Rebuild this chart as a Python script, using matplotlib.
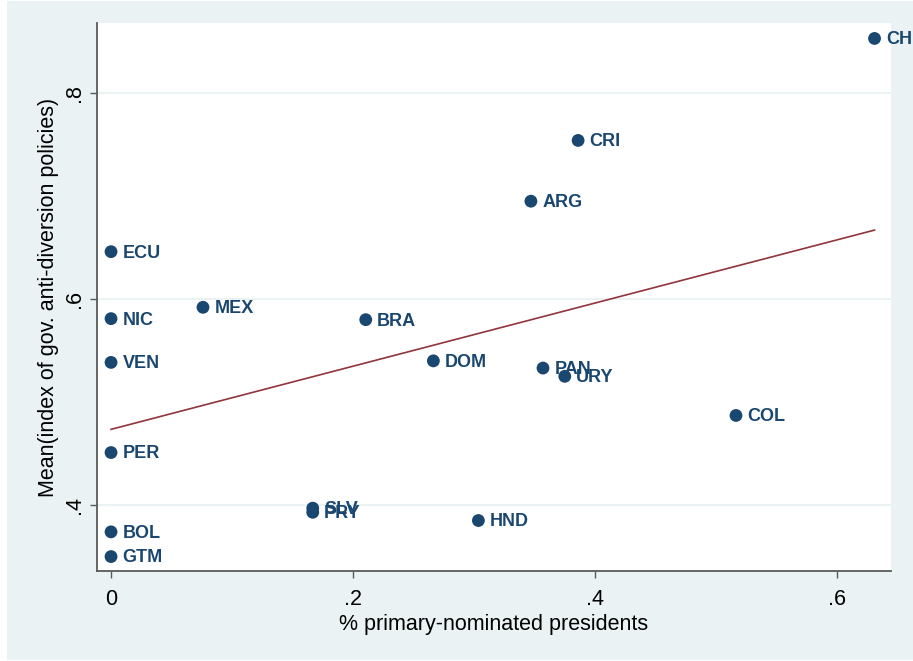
import numpy as np
import matplotlib
matplotlib.use("Agg")
import matplotlib.pyplot as plt
from matplotlib.patches import Rectangle

plt.rcParams['font.family'] = ['Liberation Sans', 'DejaVu Sans']

# Country codes and their values
countries = ["CHL", "CRI", "ARG", "ECU", "NIC", "MEX", "BRA", "VEN", "DOM",
             "PAN", "URY", "COL", "PER", "SLV", "PRY", "HND", "BOL", "GTM"]
primary_share = [0.631, 0.386, 0.347, 0.0, 0.0, 0.076, 0.2105, 0.0, 0.2664,
                 0.357, 0.375, 0.5165, 0.0, 0.1667, 0.1667, 0.3036, 0.0, 0.0]
anti_diversion = [0.853, 0.754, 0.695, 0.646, 0.581, 0.592, 0.580, 0.5385, 0.540,
                  0.533, 0.525, 0.487, 0.451, 0.397, 0.393, 0.385, 0.374, 0.350]

# Fitted-values line (intercept, slope)
fit_intercept = 0.4735
fit_slope = 0.3066

x_ticks = [0, 0.2, 0.4, 0.6]
x_tick_labels = ["0", ".2", ".4", ".6"]
y_ticks = [0.4, 0.6, 0.8]
y_tick_labels = [".4", ".6", ".8"]

BG = "#EAF2F3"
NAVY = "#1A476F"
MAROON = "#90353B"

fig = plt.figure(figsize=(9.13, 6.61), dpi=100)
fig.patch.set_facecolor("white")
fig.patches.append(Rectangle((7 / 913, 1 / 661), 906 / 913, 659 / 661,
                             transform=fig.transFigure, facecolor=BG,
                             edgecolor="none", zorder=-10))

ax = fig.add_axes([97 / 913, 1 - 571 / 661, 794 / 913, 548 / 661])
ax.set_facecolor("white")

x = np.array(primary_share)
y = np.array(anti_diversion)

# Fitted line over the observed range
xs = np.array([x.min(), x.max()])
ax.plot(xs, fit_intercept + fit_slope * xs, color=MAROON, lw=1.2, zorder=2)

ax.scatter(x, y, s=85, color=NAVY, edgecolors="none", zorder=3)
for name, xi, yi in zip(countries, x, y):
    ax.annotate(name, (xi, yi), xytext=(8.2, -1), textcoords="offset points",
                ha="left", va="center", fontsize=13, fontweight="bold",
                color=NAVY, annotation_clip=False, clip_on=False, zorder=4)

ax.set_xlim(-0.0116, 0.6446)
ax.set_ylim(0.336, 0.868)

ax.set_xticks(x_ticks)
ax.set_xticklabels(x_tick_labels)
ax.set_yticks(y_ticks)
ax.set_yticklabels(y_tick_labels, rotation=90, va="center")

ax.grid(axis="y", color=BG, lw=1.5)
ax.set_axisbelow(True)

for side in ("top", "right"):
    ax.spines[side].set_visible(False)
for side in ("left", "bottom"):
    ax.spines[side].set_color("#5a5a5a")
    ax.spines[side].set_linewidth(1.3)

ax.tick_params(axis="both", direction="out", length=5, width=1.0,
               color="#5a5a5a", labelsize=15.5, labelcolor="black")
ax.tick_params(axis="x", pad=8)
ax.tick_params(axis="y", pad=4)

ax.set_xlabel("% primary-nominated presidents", fontsize=15.5, labelpad=3)
ax.set_ylabel("Mean(index of gov. anti-diversion policies)", fontsize=15.5, labelpad=3)

fig.savefig("out.png", dpi=100)
